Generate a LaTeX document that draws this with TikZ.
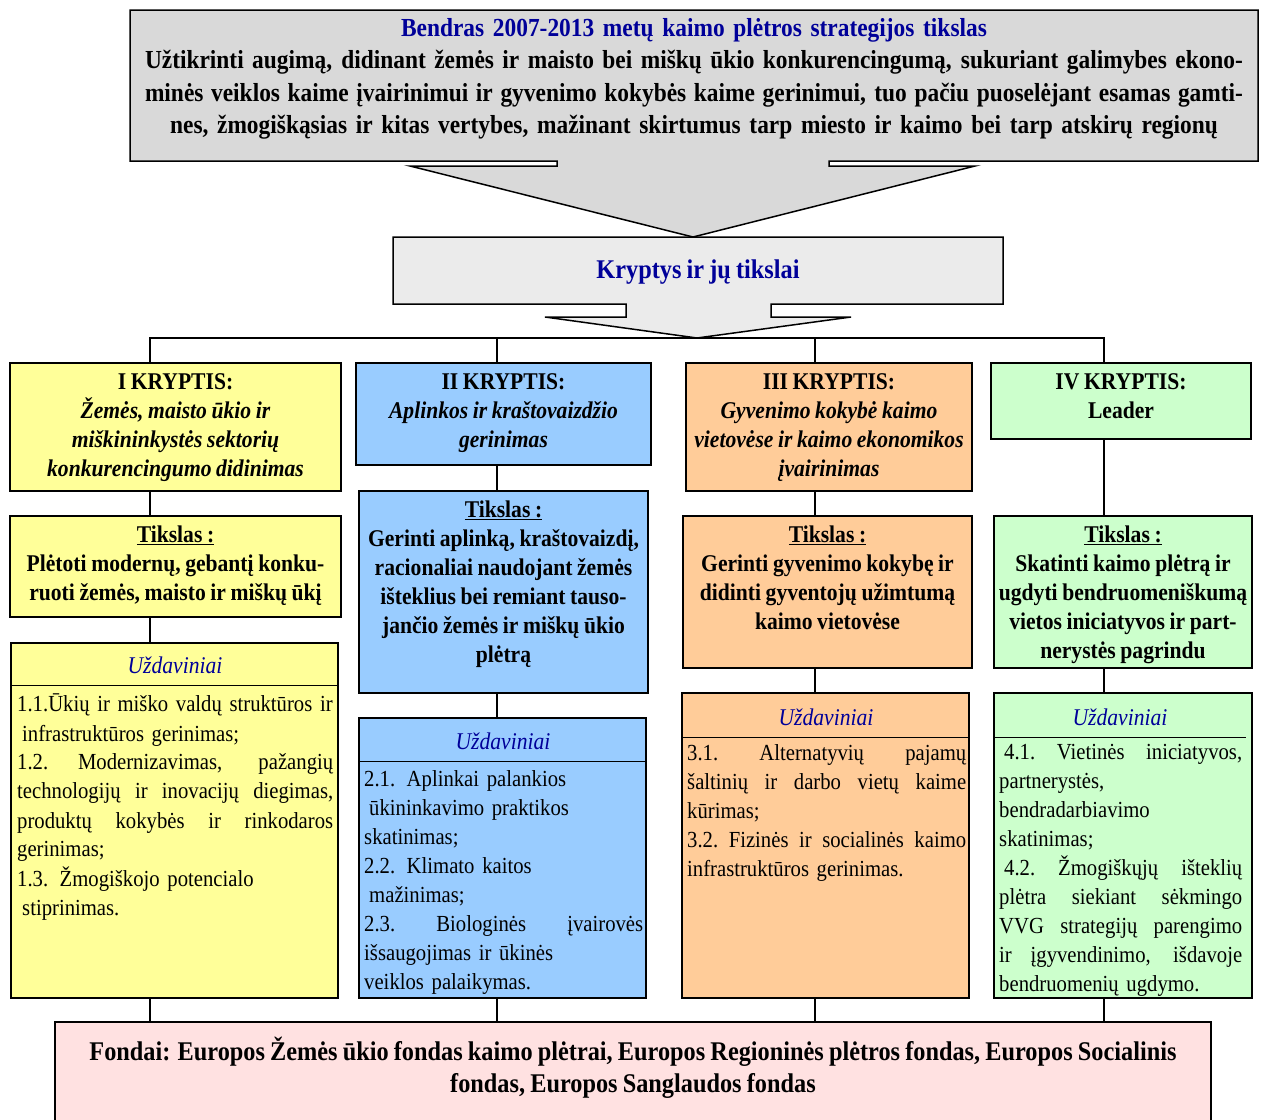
\documentclass[tikz,border=0pt]{standalone}
\usepackage{fontspec}
\setmainfont{Liberation Serif}[FakeStretch=0.9,WordSpace=0.85]
\usetikzlibrary{positioning}
\definecolor{geltona}{HTML}{FFFF99}
\definecolor{melyna}{HTML}{99CCFF}
\definecolor{oranzine}{HTML}{FFCC99}
\definecolor{zalia}{HTML}{CCFFCC}
\definecolor{rozine}{HTML}{FFE1E1}
\definecolor{pilka}{HTML}{D9D9D9}
\definecolor{sviesipilka}{HTML}{EBEBEB}
\definecolor{tamsimelyna}{HTML}{000099}
\newcommand\jl[1]{{\spaceskip=.2em plus 1fil minus .1em\xspaceskip=.2em plus 1fil minus .1em\makebox[\linewidth][s]{#1}}}

\begin{document}
\begin{tikzpicture}[x=1pt,y=-1pt,
  frame/.style={draw,line width=1.5pt,inner sep=0pt},
  box/.style 2 args={frame,minimum width=#1,minimum height=#2},
  hd/.style={inner sep=0pt,align=center,font=\fontsize{24}{29}\selectfont\bfseries},
  uzh/.style={inner sep=0pt,text=tamsimelyna,font=\fontsize{24}{29}\selectfont\itshape},
  body/.style={inner sep=0pt,anchor=north west,align=left,text width=#1,font=\fontsize{23}{29}\selectfont},
  link/.style={line width=1.2pt}]
\useasboundingbox (0,0) rectangle (1263,1119);

% bendras tikslas
\draw[line width=1.5pt,fill=pilka] (130,10) -- (1258,10) -- (1258,161) -- (829,161) -- (829,166)
  -- (975,166) -- (693,237) -- (410,166) -- (557,166) -- (557,161) -- (130,161) -- cycle;
\node[inner sep=0pt,text width=1098pt,align=center,font=\fontsize{26}{32.5}\selectfont\bfseries] (bendras) at (694,79)
  {\textcolor{tamsimelyna}{Bendras 2007-2013 metų kaimo plėtros strategijos tikslas}\\
   \jl{Užtikrinti augimą,  didinant žemės ir maisto bei miškų ūkio konkurencingumą, sukuriant galimybes ekono-}\\
   \jl{minės veiklos kaime įvairinimui ir gyvenimo kokybės kaime gerinimui, tuo pačiu puoselėjant esamas gamti-}\\
   nes, žmogiškąsias ir  kitas  vertybes,  mažinant skirtumus tarp miesto ir kaimo bei tarp atskirų regionų};

% kryptys
\draw[line width=1.5pt,fill=sviesipilka] (393,237) -- (1003,237) -- (1003,304) -- (771,304) -- (771,317)
  -- (851,317) -- (697,338) -- (545,317) -- (626,317) -- (626,304) -- (393,304) -- cycle;
\node[inner sep=0pt,text=tamsimelyna,font=\fontsize{27}{32}\selectfont\bfseries] (kryptys) at (698,272) {Kryptys ir jų tikslai};

% kryptys
\node[box={331pt}{128pt},fill=geltona] (kr1) at (175.5,427) {};
\node[box={295pt}{102pt},fill=melyna] (kr2) at (503.5,414) {};
\node[box={286pt}{128pt},fill=oranzine] (kr3) at (829,427) {};
\node[box={260pt}{76pt},fill=zalia] (kr4) at (1121,401) {};

\node[hd,below=11pt of kr1.north] (krt1) {I KRYPTIS:\\ \textit{Žemės, maisto ūkio ir}\\ \textit{miškininkystės sektorių}\\ \textit{konkurencingumo didinimas}};
\node[hd,below=11pt of kr2.north] (krt2) {II KRYPTIS:\\ \textit{Aplinkos ir kraštovaizdžio}\\ \textit{gerinimas}};
\node[hd,below=11pt of kr3.north] (krt3) {III KRYPTIS:\\ \textit{Gyvenimo kokybė kaimo}\\ \textit{vietovėse ir kaimo ekonomikos}\\ \textit{įvairinimas}};
\node[hd,below=11pt of kr4.north] (krt4) {IV KRYPTIS:\\ Leader};

% tikslai
\node[box={331pt}{101pt},fill=geltona] (ts1) at (175.5,566.5) {};
\node[box={289pt}{202pt},fill=melyna] (ts2) at (503.5,592) {};
\node[box={289pt}{152pt},fill=oranzine] (ts3) at (827.5,592) {};
\node[box={258pt}{152pt},fill=zalia] (ts4) at (1123,592) {};

\node[hd,below=10pt of ts1.north] (tst1) {\underline{Tikslas :}\\ Plėtoti modernų, gebantį konku-\\ ruoti žemės, maisto ir miškų ūkį};
\node[hd,below=10pt of ts2.north] (tst2) {\underline{Tikslas :}\\ Gerinti aplinką, kraštovaizdį,\\ racionaliai naudojant žemės\\ išteklius bei  remiant tauso-\\ jančio žemės ir miškų ūkio\\ plėtrą};
\node[hd,below=10pt of ts3.north] (tst3) {\underline{Tikslas :}\\ Gerinti gyvenimo kokybę ir\\ didinti gyventojų užimtumą\\ kaimo vietovėse};
\node[hd,below=10pt of ts4.north] (tst4) {\underline{Tikslas :}\\ Skatinti kaimo plėtrą ir\\ ugdyti bendruomeniškumą\\ vietos iniciatyvos ir part-\\ nerystės pagrindu};

% uzdaviniai
\node[box={327pt}{355pt},fill=geltona] (uz1) at (174.5,820.5) {};
\node[box={287pt}{280pt},fill=melyna] (uz2) at (502.5,858) {};
\node[box={287pt}{305pt},fill=oranzine] (uz3) at (825.5,845.5) {};
\node[box={258pt}{305pt},fill=zalia] (uz4) at (1123,845.5) {};

\draw[line width=1.5pt] ([yshift=-43pt]uz1.north west) -- ([yshift=-43pt]uz1.north east)
  ([yshift=-44pt]uz2.north west) -- ([yshift=-44pt]uz2.north east)
  ([yshift=-45pt]uz3.north west) -- ([yshift=-45pt]uz3.north east)
  ([yshift=-45pt]uz4.north west) -- ([xshift=-7pt,yshift=-45pt]uz4.north east);

\node[uzh] (uzh1) at (175,665) {Uždaviniai};
\node[uzh] (uzh2) at (503,741) {Uždaviniai};
\node[uzh] (uzh3) at (826,717) {Uždaviniai};
\node[uzh] (uzh4) at (1120,717) {Uždaviniai};

\node[body=316pt] (uzt1) at (17,694) {%
  1.1.Ūkių ir miško valdų struktūros ir\\
  \hspace*{5pt}infrastruktūros gerinimas;\\
  \jl{1.2. Modernizavimas, pažangių}\\
  \jl{technologijų ir inovacijų diegimas,}\\
  \jl{produktų kokybės ir rinkodaros}\\
  gerinimas;\\
  1.3. Žmogiškojo potencialo\\
  \hspace*{5pt}stiprinimas.};
\node[body=279pt] (uzt2) at (364,770) {%
  2.1. Aplinkai palankios\\
  \hspace*{5pt}ūkininkavimo praktikos\\
  skatinimas;\\
  2.2. Klimato kaitos\\
  \hspace*{5pt}mažinimas;\\
  \jl{2.3. Biologinės įvairovės}\\
  išsaugojimas ir ūkinės\\
  veiklos palaikymas.};
\node[body=279pt] (uzt3) at (687,744) {%
  \jl{3.1. Alternatyvių pajamų}\\
  \jl{šaltinių ir darbo vietų kaime}\\
  kūrimas;\\
  \jl{3.2. Fizinės ir socialinės kaimo}\\
  infrastruktūros gerinimas.};
\begin{scope}
\clip ([shift={(1pt,-1pt)}]uz4.south west) rectangle ([shift={(-1pt,1pt)}]uz4.north east);
\node[body=243pt] (uzt4) at (999,744) {%
  \jl{\hspace*{5pt}4.1. Vietinės iniciatyvos,}\\
  partnerystės,\\
  bendradarbiavimo\\
  skatinimas;\\
  \jl{\hspace*{5pt}4.2. Žmogiškųjų išteklių}\\
  \jl{plėtra siekiant sėkmingo}\\
  \jl{VVG strategijų parengimo}\\
  \jl{ir įgyvendinimo, išdavoje}\\
  bendruomenių ugdymo.};
\end{scope}

% fondai
\node[box={1156pt}{106pt},fill=rozine] (fond) at (633,1075) {};
\node[inner sep=0pt,align=center,font=\fontsize{27}{32}\selectfont\bfseries] (fondt) at (633,1068)
  {Fondai: Europos Žemės ūkio fondas kaimo plėtrai, Europos Regioninės plėtros fondas, Europos Socialinis\\
   fondas, Europos Sanglaudos fondas};

% jungtys
\coordinate (c1) at (150,338);
\coordinate (c2) at (497,338);
\coordinate (c3) at (815,338);
\coordinate (c4) at (1104,338);
\draw[link] (c1 |- kr1.north) -- (c1) -- (c4) -- (c4 |- kr4.north)
  (c2) -- (c2 |- kr2.north) (c3) -- (c3 |- kr3.north);
\draw[link] (c1 |- kr1.south) -- (c1 |- ts1.north) (c1 |- ts1.south) -- (c1 |- uz1.north)
  (c1 |- uz1.south) -- (c1 |- fond.north);
\draw[link] (c2 |- kr2.south) -- (c2 |- ts2.north) (c2 |- ts2.south) -- (c2 |- uz2.north)
  (c2 |- uz2.south) -- (c2 |- fond.north);
\draw[link] (c3 |- kr3.south) -- (c3 |- ts3.north) (c3 |- ts3.south) -- (c3 |- uz3.north)
  (c3 |- uz3.south) -- (c3 |- fond.north);
\draw[link] (c4 |- kr4.south) -- (c4 |- ts4.north) (c4 |- ts4.south) -- (c4 |- uz4.north)
  (c4 |- uz4.south) -- (c4 |- fond.north);
\end{tikzpicture}
\end{document}
